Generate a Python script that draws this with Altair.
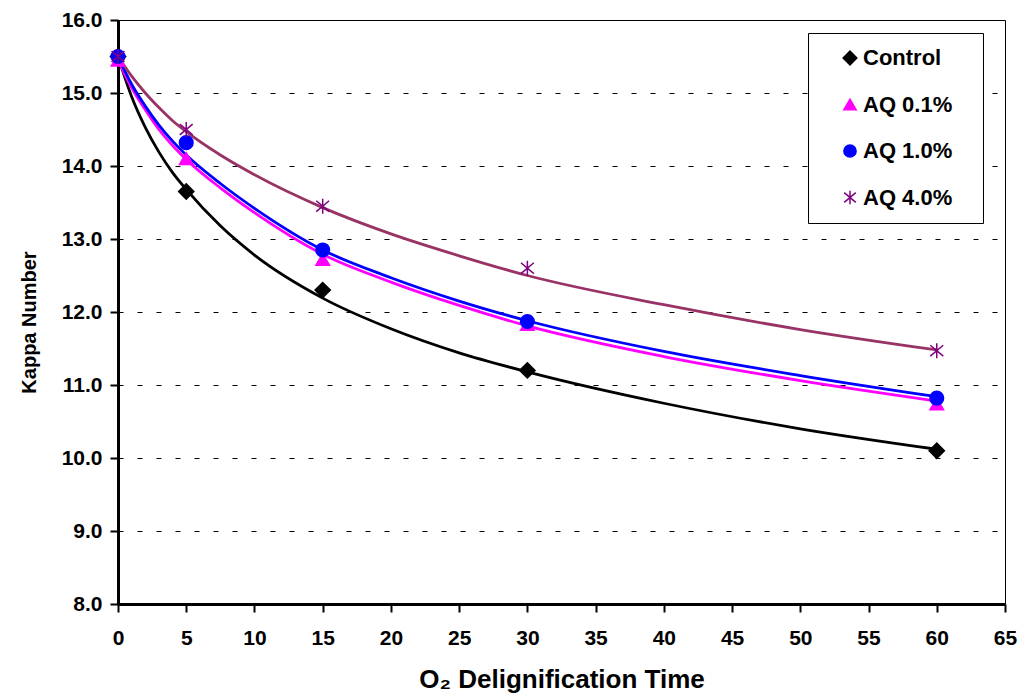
import altair as alt
import pandas as pd

# ---- data ----
series = ["Control", "AQ 0.1%", "AQ 1.0%", "AQ 4.0%"]

# measured points
time_pts = [0, 5, 15, 30, 60]
control_pts = [15.5, 13.65, 12.3, 11.2, 10.1]
aq01_pts = [15.45, 14.1, 12.72, 11.83, 10.74]
aq10_pts = [15.5, 14.32, 12.85, 11.87, 10.82]
aq40_pts = [15.5, 14.5, 13.45, 12.6, 11.47]

# trend curves, values
curve_time = [0, 1, 2, 3, 4, 5, 7.5, 10, 15, 20, 25, 30, 40, 50, 60]
control_curve = [15.5, 14.95, 14.53, 14.19, 13.91, 13.68, 13.18, 12.78, 12.19, 11.77, 11.44, 11.18, 10.75, 10.40, 10.12]
aq01_curve = [15.45, 15.07, 14.77, 14.5, 14.28, 14.09, 13.7, 13.36, 12.79, 12.41, 12.09, 11.81, 11.39, 11.06, 10.78]
aq10_curve = [15.5, 15.12, 14.82, 14.56, 14.34, 14.15, 13.76, 13.42, 12.85, 12.47, 12.15, 11.88, 11.46, 11.13, 10.84]
aq40_curve = [15.5, 15.23, 15.0, 14.8, 14.62, 14.47, 14.15, 13.88, 13.43, 13.07, 12.77, 12.5, 12.1, 11.76, 11.48]

x_ticks = list(range(0, 70, 5))
y_ticks = [8, 9, 10, 11, 12, 13, 14, 15, 16]

# ---- styling ----
marker_colors = ["#000000", "#FF00FF", "#0000FF", "#800080"]
marker_fills = ["#000000", "#FF00FF", "#0000FF", "transparent"]
line_colors = ["#000000", "#FF00FF", "#0000FF", "#993366"]
diamond = "M-1.12,0L0,-1.12L1.12,0L0,1.12Z"
asterisk = "M0,-1.1L0,1.1M-0.95,-0.8L0.95,0.8M-0.95,0.8L0.95,-0.8"
shapes = [diamond, "triangle-up", "circle", asterisk]

pts_rows = []
for name, vals in zip(series, [control_pts, aq01_pts, aq10_pts, aq40_pts]):
    for t, v in zip(time_pts, vals):
        pts_rows.append({"series": name, "time": t, "kappa": v})
pts = pd.DataFrame(pts_rows)

curve_sets = [control_curve, aq01_curve, aq10_curve, aq40_curve]

FONT = "Liberation Sans"

x_enc = alt.X(
    "time:Q",
    scale=alt.Scale(domain=[0, 65], nice=False, zero=False),
    axis=alt.Axis(
        values=x_ticks, title="O₂ Delignification Time", grid=False,
        tickSize=8, tickWidth=2, tickColor="black",
        domainWidth=3, domainColor="black",
        labelFont=FONT, labelFontSize=21, labelFontWeight="bold", labelColor="black",
        labelPadding=15, labelFlush=False,
        titleFont=FONT, titleFontSize=26, titleFontWeight="bold", titleColor="black",
        titlePadding=18,
    ),
)
y_enc = alt.Y(
    "kappa:Q",
    scale=alt.Scale(domain=[8, 16], nice=False, zero=False),
    axis=alt.Axis(
        values=y_ticks, format=".1f", title="Kappa Number",
        grid=True, gridColor="black", gridDash=[5, 14], gridWidth=1, gridOpacity=1,
        tickSize=8, tickWidth=2, tickColor="black",
        domainWidth=3, domainColor="black",
        labelFont=FONT, labelFontSize=21, labelFontWeight="bold", labelColor="black",
        labelPadding=8, labelFlush=False,
        titleFont=FONT, titleFontSize=20, titleFontWeight="bold", titleColor="black",
        titlePadding=22, titleY=302,
    ),
)

legend = alt.Legend(
    title="\u00a0", titleOrient="right", titlePadding=17, titleFontSize=22,
    orient="none", legendX=690, legendY=13,
    fillColor="white", strokeColor="black", padding=14,
    rowPadding=24.5, labelFont=FONT, labelFontSize=22, labelFontWeight="bold",
    labelColor="black", symbolSize=150, symbolOffset=17, labelOffset=2,
    symbolStrokeWidth=1.5,
)

layers = []
for name, vals, col in zip(series, curve_sets, line_colors):
    df = pd.DataFrame({"time": curve_time, "kappa": vals})
    layers.append(
        alt.Chart(df).mark_line(interpolate="monotone", strokeWidth=2.8, color=col).encode(
            x=x_enc, y=y_enc
        )
    )

points = alt.Chart(pts).mark_point(filled=False, size=185, strokeWidth=1.5, opacity=1).encode(
    x=x_enc,
    y=y_enc,
    shape=alt.Shape("series:N", scale=alt.Scale(domain=series, range=shapes), legend=legend),
    color=alt.Color("series:N", scale=alt.Scale(domain=series, range=marker_colors), legend=legend),
    fill=alt.Fill("series:N", scale=alt.Scale(domain=series, range=marker_fills), legend=legend),
)
layers.append(points)

chart = alt.layer(*layers).properties(
    width=887, height=584,
    autosize=alt.AutoSizeParams(type="none"),
    padding={"left": 118, "top": 20, "right": 17, "bottom": 94},
    background="white",
).configure_view(stroke="black", strokeWidth=1)

chart.save("out.html", embed_options={"renderer": "svg", "actions": False})
